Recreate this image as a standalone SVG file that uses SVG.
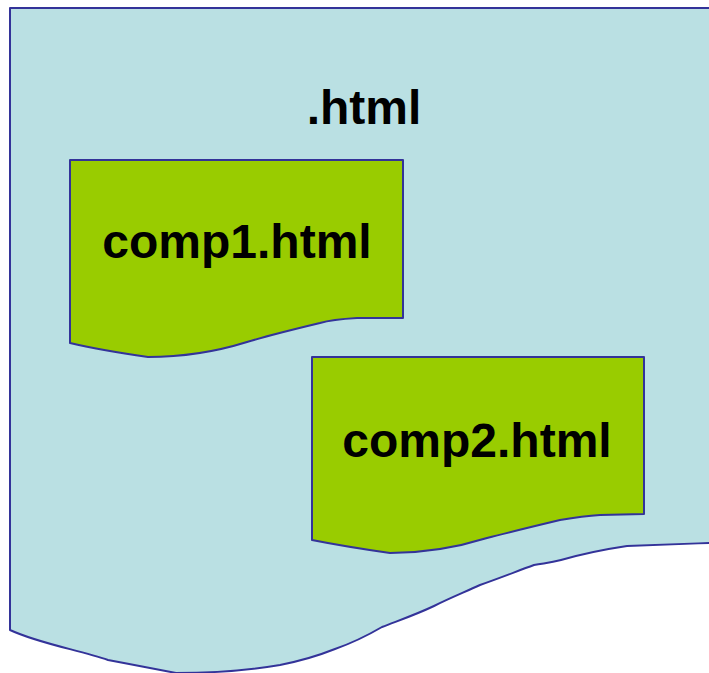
<svg xmlns="http://www.w3.org/2000/svg" width="709" height="673" viewBox="0 0 709 673">
<style>
.doc{stroke:#333399;stroke-width:2;stroke-linejoin:round}
.outer{fill:#BAE0E3}
.inner{fill:#99CC00}
.lbl{font-family:"Liberation Sans",Arial,sans-serif;font-weight:bold;font-size:48px;fill:#000;text-anchor:middle}
</style>
<g id="page">
<path class="doc outer" d="M10,8 L712,8 L712,543 L709,543 C680,544 650,545 627,546 C600,550 575,556 561,560 C550,563 545,563 534,565 C515,572 500,578 480,585 C465,592 450,598 434,606 C415,615 400,620 382,627 C370,634 355,642 335,649 C315,657 300,661 280,665 C250,670 215,673 176,673 C150,668 130,664 108,660 C80,650 40,644 10,630 Z"/>
<text class="lbl" x="364" y="124">.html</text>
</g>
<g id="comp1">
<path class="doc inner" d="M70,160 L403,160 L403,318 L357,318 C340,319 330,320 320,323 C295,329 270,335 247,342 C215,352 185,357 148,357 C120,353 95,349 70,343 Z"/>
<text class="lbl" x="237" y="258">comp1.html</text>
</g>
<g id="comp2">
<path class="doc inner" d="M312,357 L644,357 L644,514 L600,515 C585,516 572,518 560,520 C535,526 510,532 487,538 C455,548 425,553 390,553 C362,549 337,545 312,540 Z"/>
<text class="lbl" x="477" y="457">comp2.html</text>
</g>
<g id="connectors"></g>
</svg>
